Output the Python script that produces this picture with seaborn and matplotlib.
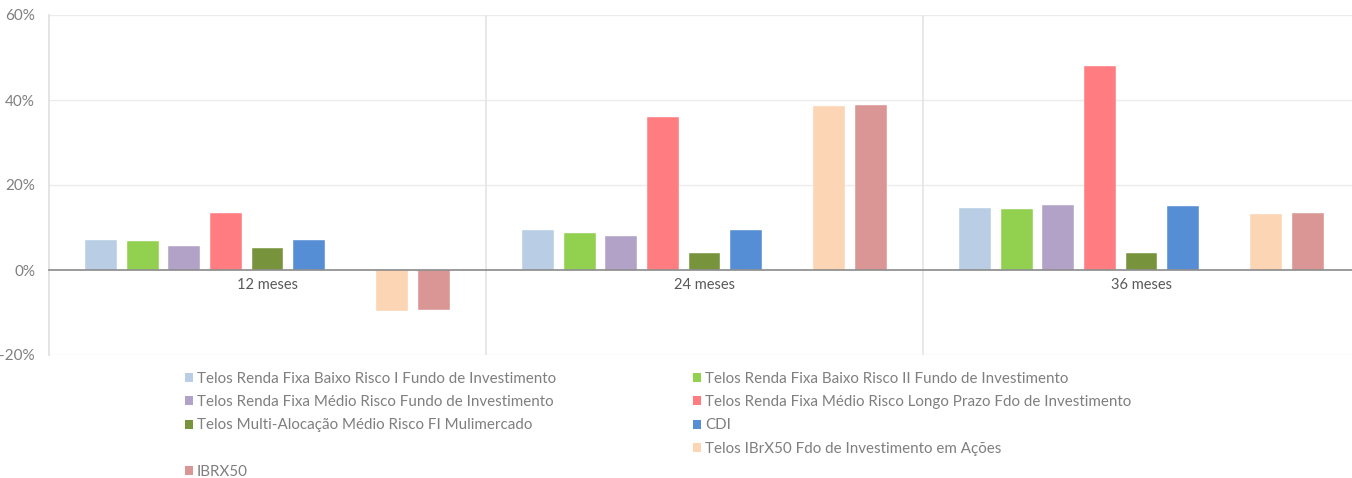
import numpy as np
import pandas as pd
import matplotlib
matplotlib.use("Agg")
import matplotlib.pyplot as plt
import seaborn as sns
from matplotlib.patches import Patch

periodos = ["12 meses", "24 meses", "36 meses"]
series = [
    "Telos Renda Fixa Baixo Risco I Fundo de Investimento",
    "Telos Renda Fixa Baixo Risco II Fundo de Investimento",
    "Telos Renda Fixa Médio Risco Fundo de Investimento",
    "Telos Renda Fixa Médio Risco Longo Prazo Fdo de Investimento",
    "Telos Multi-Alocação Médio Risco FI Mulimercado",
    "CDI",
    " ",
    "Telos IBrX50 Fdo de Investimento em Ações",
    "IBRX50",
]
baixo_risco_i = [7.0, 9.3, 14.7]
baixo_risco_ii = [6.9, 8.8, 14.3]
medio_risco = [5.7, 8.0, 15.2]
medio_risco_lp = [13.5, 36.1, 48.1]
multi_alocacao = [5.1, 4.1, 4.1]
cdi = [7.0, 9.4, 15.0]
vazio = [np.nan, np.nan, np.nan]
ibrx50_fdo = [-9.6, 38.6, 13.2]
ibrx50 = [-9.4, 38.8, 13.3]
tick_vals = [-20, 0, 20, 40, 60]
tick_labels = ["-20%", "0%", "20%", "40%", "60%"]

colors = ["#b9cde5", "#92d050", "#b3a2c7", "#ff7c80", "#77933c",
          "#558ed5", "#ffffff", "#fcd5b5", "#d99694"]

values = [baixo_risco_i, baixo_risco_ii, medio_risco, medio_risco_lp,
          multi_alocacao, cdi, vazio, ibrx50_fdo, ibrx50]
rows = []
for s, vals in zip(series, values):
    for p, v in zip(periodos, vals):
        rows.append({"periodo": p, "serie": s, "valor": v})
df = pd.DataFrame(rows)

sns.set_theme(style="white")
plt.rcParams["font.family"] = ["Lato", "DejaVu Sans"]

fig = plt.figure(figsize=(13.52, 4.78), dpi=100)
ax = fig.add_axes([49/1352, 1-355/478, (1360-49)/1352, 340/478])

sns.barplot(data=df, x="periodo", y="valor", hue="serie", hue_order=series,
            order=periodos, palette=dict(zip(series, colors)), width=0.855,
            gap=0.23, legend=False, ax=ax, edgecolor="white", linewidth=0.3,
            saturation=1, err_kws={"linewidth": 0})

ax.set_ylim(-20, 60)
ax.set_xlim(-0.5, 2.5)
ax.set_yticks(tick_vals)
ax.set_yticklabels(tick_labels, color="#7f7f7f", fontsize=11)
ax.set_xlabel("")
ax.set_ylabel("")
for y in tick_vals:
    if y != 0:
        ax.axhline(y, color="#ebebeb", linewidth=1, zorder=0)
for xb in [0.5, 1.5]:
    ax.axvline(xb, color="#e4e4e4", linewidth=1.2, zorder=0)

for side in ["top", "right"]:
    ax.spines[side].set_visible(False)
ax.spines["left"].set_color("#e0e0e0")
ax.spines["bottom"].set_position(("data", 0))
ax.spines["bottom"].set_color("#8a8a8a")
ax.spines["bottom"].set_linewidth(1.2)
ax.tick_params(axis="x", length=0, pad=6, labelsize=10.5, labelcolor="#595959")
ax.tick_params(axis="y", length=0, pad=10)
ax.set_xticks(range(len(periodos)))
ax.set_xticklabels(periodos)


def make_handles(idx):
    hs = []
    for i in idx:
        if series[i].strip() == "":
            hs.append(Patch(facecolor="none", edgecolor="none", label=" "))
        else:
            hs.append(Patch(facecolor=colors[i], edgecolor="none", label=series[i]))
    return hs


leg_kw = dict(loc="upper left", frameon=False, fontsize=10.9, handlelength=0.55,
              handleheight=0.55, handletextpad=0.25, labelspacing=0.61,
              borderaxespad=0, borderpad=0)
col_left = [0, 2, 4, 6, 8]
col_right = [1, 3, 5, 7]
leg1 = fig.legend(handles=make_handles(col_left),
                  bbox_to_anchor=(185/1352, 1-372/478), **leg_kw)
leg2 = fig.legend(handles=make_handles(col_right),
                  bbox_to_anchor=(693/1352, 1-372/478), **leg_kw)
for lg in (leg1, leg2):
    for t in lg.get_texts():
        t.set_color("#7f7f7f")

fig.savefig("out.png", dpi=100, facecolor="white")
